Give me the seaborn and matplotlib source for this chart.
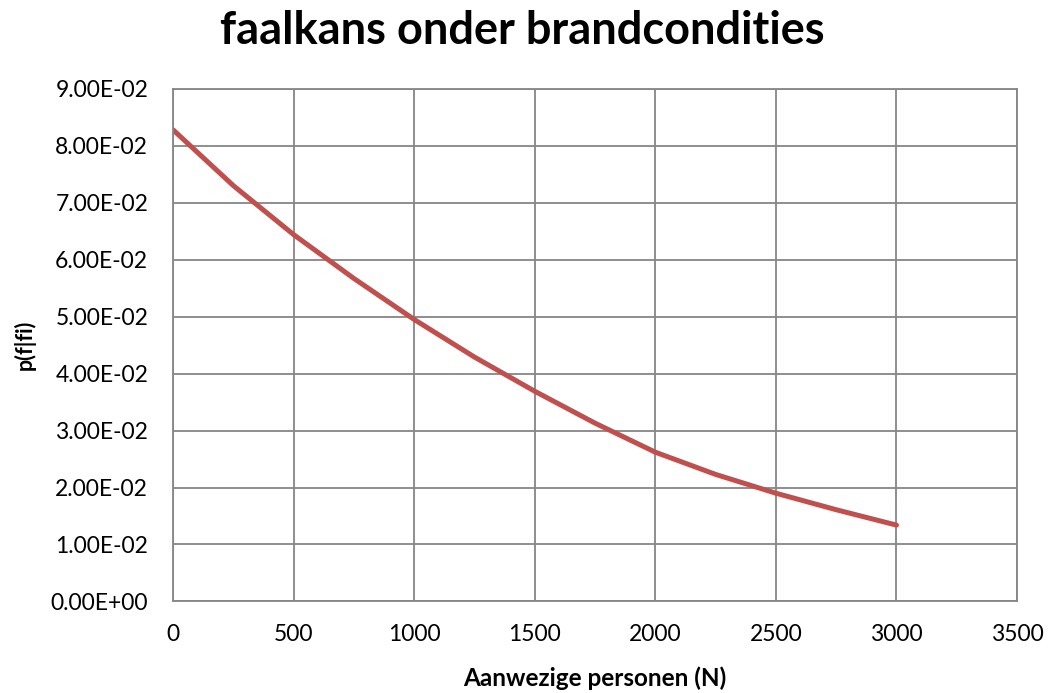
import matplotlib
matplotlib.use("Agg")
import matplotlib.pyplot as plt
from matplotlib.ticker import FuncFormatter, MultipleLocator
import seaborn as sns
import pandas as pd

# Number of persons present vs. failure probability under fire conditions
personen = [0, 250, 500, 750, 1000, 1250, 1500, 1750, 2000, 2250, 2500, 2750, 3000]
faalkans = [0.0828, 0.0730, 0.0644, 0.0567, 0.0495, 0.0429, 0.0369, 0.0313, 0.0262,
            0.0223, 0.0190, 0.0161, 0.0134]

x_ticks = [0, 500, 1000, 1500, 2000, 2500, 3000, 3500]

sns.set_style("whitegrid")
plt.rcParams["font.family"] = ["Lato", "DejaVu Sans"]
plt.rcParams["text.color"] = "black"
plt.rcParams["axes.labelcolor"] = "black"

df = pd.DataFrame({"N": personen, "p": faalkans})

fig = plt.figure(figsize=(10.5, 6.93), dpi=100)
ax = fig.add_axes([0.165, 0.1322, 0.8036, 0.7394])

sns.lineplot(data=df, x="N", y="p", ax=ax, color="#C0504D", linewidth=3.6,
             solid_capstyle="round", solid_joinstyle="round")

ax.set_xlim(0, 3500)
ax.set_ylim(0, 0.09)
ax.set_xticks(x_ticks)
ax.yaxis.set_major_locator(MultipleLocator(0.01))
ax.yaxis.set_major_formatter(FuncFormatter(lambda v, _: f"{v:.2E}"))

grid_col = "#868686"
ax.grid(True, color=grid_col, linewidth=1.3)
for s in ax.spines.values():
    s.set_color(grid_col)
    s.set_linewidth(1.3)
ax.tick_params(axis="both", which="major", direction="out", width=1.3,
               color=grid_col, labelsize=16.5, labelcolor="black")
ax.tick_params(axis="y", length=6, pad=12)
ax.tick_params(axis="x", length=5, pad=11)

ax.set_xlabel("Aanwezige personen (N)", fontsize=17.5, fontweight="bold",
              labelpad=16, color="black")
ax.set_ylabel("p(f|fi)", fontsize=15.5, fontweight="bold", labelpad=11, color="black")
fig.suptitle("faalkans onder brandcondities", fontsize=32.5, fontweight="bold",
             x=0.497, y=0.985, color="black")

fig.savefig("out.png", dpi=100)
